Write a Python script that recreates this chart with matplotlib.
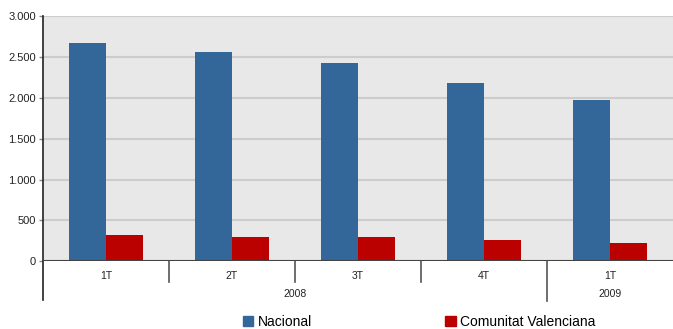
import matplotlib.pyplot as plt
from matplotlib.patches import Patch
from matplotlib.ticker import FuncFormatter
import matplotlib.transforms as mtransforms
import numpy as np

plt.rcParams['font.family'] = ['Liberation Sans', 'DejaVu Sans']

# datos
trimestres = ["1T", "2T", "3T", "4T", "1T"]
anios = ["2008", "2009"]
anio_trimestres = [4, 1]
nacional = [2668, 2558, 2423, 2176, 1967]
comunitat = [324, 299, 298, 262, 225]
series = ["Nacional", "Comunitat Valenciana"]

AZUL = "#336699"
ROJO = "#BB0000"

fig = plt.figure(figsize=(6.73, 3.29), dpi=100)
ax = fig.add_axes([43 / 673, 1 - 261.3 / 329, 630 / 673, 245.3 / 329])
ax.set_facecolor("#E8E8E8")

x = np.arange(len(trimestres))
w = 0.294
ax.bar(x - w / 2, nacional, w, color=AZUL, zorder=3)
ax.bar(x + w / 2, comunitat, w, color=ROJO, zorder=3)

ax.set_xlim(-0.5, len(trimestres) - 0.5)
ax.set_ylim(0, 3000)
ax.set_yticks(np.arange(0, 3001, 500))
ax.yaxis.set_major_formatter(FuncFormatter(lambda v, p: f"{int(v):,}".replace(",", ".")))
ax.grid(axis="y", color="#CCCCCC", linewidth=1.5, zorder=0)
ax.tick_params(axis="y", length=3, width=1, color="#888888", labelsize=8, pad=2, labelcolor="#222222")
ax.set_xticks([])
for s in ["top", "right", "left", "bottom"]:
    ax.spines[s].set_visible(False)

ax.axhline(0, color="#444444", linewidth=1.5, zorder=4)
ax.plot([0, 0], [-0.158, 1], transform=ax.transAxes, color="#222222", linewidth=1.2, clip_on=False)

trans = mtransforms.blended_transform_factory(ax.transData, ax.transAxes)
for i, t in enumerate(trimestres):
    ax.text(i, -0.058, t, transform=trans, ha="center", va="center", fontsize=7.5, color="#222222")

# separadores de trimestres y de anios
fin_anios = np.cumsum(anio_trimestres) - 0.5
for i in range(len(trimestres) - 1):
    sep = i + 0.5
    y0 = -0.16 if sep in fin_anios else -0.084
    ax.plot([sep, sep], [y0, 0], transform=trans, color="#555555", linewidth=1.2, clip_on=False)

inicio = -0.5
for a, n in zip(anios, anio_trimestres):
    ax.text(inicio + n / 2, -0.135, a, transform=trans, ha="center", va="center", fontsize=7.5, color="#222222")
    inicio += n

handles = [Patch(color=AZUL, label=series[0]), Patch(color=ROJO, label=series[1])]
fig.legend(handles=handles, loc="center", bbox_to_anchor=(419 / 673, 1 - 322 / 329), ncol=2,
           frameon=False, fontsize=10, handlelength=0.75, handleheight=0.75,
           handletextpad=0.3, columnspacing=9.6, borderpad=0)

fig.savefig("out.png", dpi=100)
